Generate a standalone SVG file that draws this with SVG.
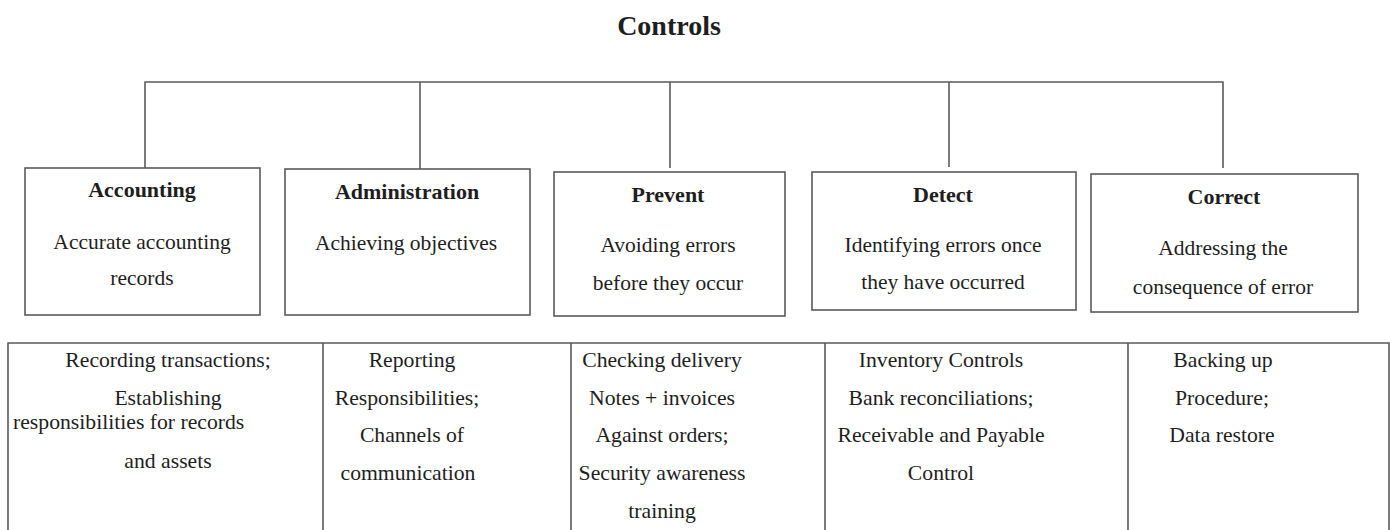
<svg xmlns="http://www.w3.org/2000/svg" width="1390" height="530" viewBox="0 0 1390 530">
  <style>
    .box { fill: #ffffff; stroke: #5a5a5a; stroke-width: 1.6; }
    .wire { fill: none; stroke: #5a5a5a; stroke-width: 1.6; }
    text { font-family: "Liberation Serif", "Times New Roman", serif; fill: #1e1e1e; }
    .title { font-size: 28px; font-weight: bold; text-anchor: middle; }
    .head { font-size: 22px; font-weight: bold; text-anchor: middle; }
    .body { font-size: 21.5px; text-anchor: middle; }
    .cell { font-size: 21.7px; text-anchor: middle; }
  </style>
  <rect width="1390" height="530" fill="#ffffff"/>

  <text class="title" x="669" y="35">Controls</text>

  <!-- connectors: one bus line feeding each category box -->
  <g id="connectors">
    <path class="wire" d="M145 168 V82 H1223 V168"/>
    <path class="wire" d="M420 82 V169"/>
    <path class="wire" d="M670 82 V168"/>
    <path class="wire" d="M949 82 V167"/>
  </g>

  <g id="accounting">
    <rect class="box" x="25" y="168" width="235" height="147"/>
    <text class="head" x="142" y="197">Accounting</text>
    <text class="body" x="142" y="249">Accurate accounting</text>
    <text class="body" x="142" y="285">records</text>
  </g>

  <g id="administration">
    <rect class="box" x="285" y="169" width="245" height="146"/>
    <text class="head" x="407" y="199">Administration</text>
    <text class="body" x="406" y="250">Achieving objectives</text>
  </g>

  <g id="prevent">
    <rect class="box" x="554" y="172" width="231" height="144"/>
    <text class="head" x="668" y="202">Prevent</text>
    <text class="body" x="668" y="252">Avoiding errors</text>
    <text class="body" x="668" y="290">before they occur</text>
  </g>

  <g id="detect">
    <rect class="box" x="812" y="172" width="264" height="138"/>
    <text class="head" x="943" y="202">Detect</text>
    <text class="body" x="943" y="252">Identifying errors once</text>
    <text class="body" x="943" y="289">they have occurred</text>
  </g>

  <g id="correct">
    <rect class="box" x="1091" y="174" width="267" height="138"/>
    <text class="head" x="1224" y="204">Correct</text>
    <text class="body" x="1223" y="255">Addressing the</text>
    <text class="body" x="1223" y="294">consequence of error</text>
  </g>

  <!-- examples table -->
  <g id="examples">
    <path class="wire" d="M8 531 V343 H1389 V531"/>
    <path class="wire" d="M323 343 V531 M571 343 V531 M825 343 V531 M1128 343 V531"/>

    <g id="examples-accounting">
      <text class="cell" x="168" y="367">Recording transactions;</text>
      <text class="cell" x="168" y="405">Establishing</text>
      <text class="cell" x="13" y="429" style="text-anchor:start">responsibilities for records</text>
      <text class="cell" x="168" y="468">and assets</text>
    </g>

    <g id="examples-administration">
      <text class="cell" x="412" y="367">Reporting</text>
      <text class="cell" x="407" y="405">Responsibilities;</text>
      <text class="cell" x="412" y="442">Channels of</text>
      <text class="cell" x="408" y="480">communication</text>
    </g>

    <g id="examples-prevent">
      <text class="cell" x="662" y="367">Checking delivery</text>
      <text class="cell" x="662" y="405">Notes + invoices</text>
      <text class="cell" x="662" y="442">Against orders;</text>
      <text class="cell" x="662" y="480">Security awareness</text>
      <text class="cell" x="662" y="518">training</text>
    </g>

    <g id="examples-detect">
      <text class="cell" x="941" y="367">Inventory Controls</text>
      <text class="cell" x="941" y="405">Bank reconciliations;</text>
      <text class="cell" x="941" y="442">Receivable and Payable</text>
      <text class="cell" x="941" y="480">Control</text>
    </g>

    <g id="examples-correct">
      <text class="cell" x="1223" y="367">Backing up</text>
      <text class="cell" x="1222" y="405">Procedure;</text>
      <text class="cell" x="1222" y="442">Data restore</text>
    </g>
  </g>
</svg>
